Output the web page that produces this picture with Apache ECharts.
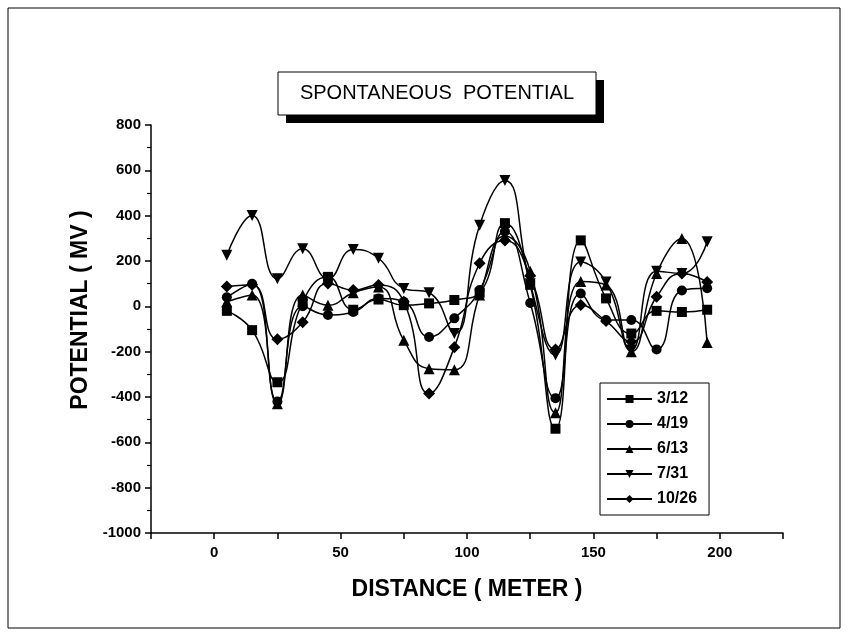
<!DOCTYPE html>
<html>
<head>
<meta charset="utf-8">
<script src="https://cdn.jsdelivr.net/npm/echarts@6/dist/echarts.min.js"></script>
<style>
html,body{margin:0;padding:0;background:#fff;}
#c{width:848px;height:636px;}
</style>
</head>
<body>
<div id="c"></div>
<script>
var distance = [5, 15, 25, 35, 45, 55, 65, 75, 85, 95, 105, 115, 125, 135, 145, 155, 165, 175, 185, 195];
var s0312 = [-20, -105, -335, 20, 130, -15, 30, 5, 13, 28, 60, 367, 95, -540, 291, 35, -120, -20, -25, -15];
var s0419 = [40, 100, -420, 0, -38, -25, 35, 20, -135, -53, 72, 330, 15, -405, 57, -60, -60, -190, 70, 80];
var s0613 = [20, 50, -430, 50, 5, 60, 85, -150, -275, -280, 50, 310, 155, -470, 110, 94, -200, 145, 299, -160];
var s0731 = [225, 401, 122, 254, 123, 251, 212, 79, 60, -120, 358, 555, 100, -215, 196, 107, -193, 155, 145, 285];
var s1026 = [87, 95, -145, -70, 101, 72, 94, 20, -385, -180, 190, 290, 135, -190, 6, -65, -156, 42, 145, 107];
var seriesNames = ['3/12', '4/19', '6/13', '7/31', '10/26'];
var seriesData = [s0312, s0419, s0613, s0731, s1026];
var symbols = ['rect', 'circle', 'triangle', 'triangle', 'diamond'];
var rotations = [0, 0, 0, 180, 0];
var titleText = 'SPONTANEOUS  POTENTIAL';
var xName = 'DISTANCE ( METER )';
var yName = 'POTENTIAL ( MV )';

function pairs(arr) {
  return distance.map(function (d, i) { return [d, arr[i]]; });
}

var chart = echarts.init(document.getElementById('c'));
var font = 'Liberation Sans, Arial, sans-serif';
var sizes = [10, 10, 11, 11, 12];

var series = seriesNames.map(function (n, i) {
  return {
    name: n,
    type: 'line',
    smooth: 0.5,
    data: pairs(seriesData[i]),
    symbol: symbols[i],
    symbolRotate: rotations[i],
    symbolSize: sizes[i],
    itemStyle: { color: '#000' },
    lineStyle: { color: '#000', width: 1.5 },
    z: 3 + i
  };
});

chart.setOption({
  backgroundColor: '#fff',
  animation: false,
  grid: { left: 151, right: 65, top: 125, bottom: 103, containLabel: false },
  xAxis: {
    type: 'value',
    min: -25, max: 225, interval: 25,
    name: xName, nameLocation: 'middle', nameGap: 45,
    nameTextStyle: { color: '#000', fontSize: 23, fontWeight: 'bold', fontFamily: font },
    axisLine: { show: true, onZero: false, lineStyle: { color: '#000', width: 1.5 } },
    axisTick: { show: true, inside: false, length: 6, lineStyle: { color: '#000', width: 1.5 } },
    axisLabel: {
      color: '#000', fontSize: 15, fontWeight: 'bold', fontFamily: font, margin: 12,
      formatter: function (v) { return (v % 50 === 0) ? String(v) : ''; }
    },
    splitLine: { show: false }
  },
  yAxis: {
    type: 'value',
    min: -1000, max: 800, interval: 200,
    name: yName, nameLocation: 'middle', nameGap: 57, nameRotate: 90,
    nameTextStyle: { color: '#000', fontSize: 23, fontWeight: 'bold', fontFamily: font, padding: [0, 0, 0, 38] },
    axisLine: { show: true, onZero: false, lineStyle: { color: '#000', width: 1.5 } },
    axisTick: { show: true, inside: false, length: 6, lineStyle: { color: '#000', width: 1.5 } },
    minorTick: { show: true, splitNumber: 2, length: 4, lineStyle: { color: '#000', width: 1.2 } },
    axisLabel: {
      color: '#000', fontSize: 15, fontWeight: 'bold', fontFamily: font, margin: 10,
      formatter: function (v) { return String(v); }
    },
    splitLine: { show: false }
  },
  legend: {
    orient: 'vertical',
    left: 600, top: 383,
    data: seriesNames,
    itemWidth: 45, itemHeight: 10, itemGap: 9,
    padding: [8, 12, 8, 6],
    borderColor: '#000', borderWidth: 1,
    textStyle: { color: '#000', fontSize: 16, fontWeight: 'bold', fontFamily: font },
    inactiveColor: '#000'
  },
  graphic: [
    { type: 'rect', shape: { x: 8, y: 8, width: 832, height: 620 }, style: { fill: 'none', stroke: '#000', lineWidth: 1 }, silent: true },
    { type: 'rect', shape: { x: 286, y: 80, width: 318, height: 43 }, style: { fill: '#000' }, silent: true },
    { type: 'rect', shape: { x: 278, y: 72, width: 318, height: 43 }, style: { fill: '#fff', stroke: '#000', lineWidth: 1 }, silent: true },
    { type: 'text', x: 437, y: 93.5, style: { text: titleText, fill: '#000', font: '20px ' + font, align: 'center', verticalAlign: 'middle' }, silent: true }
  ],
  series: series
});
</script>
</body>
</html>
